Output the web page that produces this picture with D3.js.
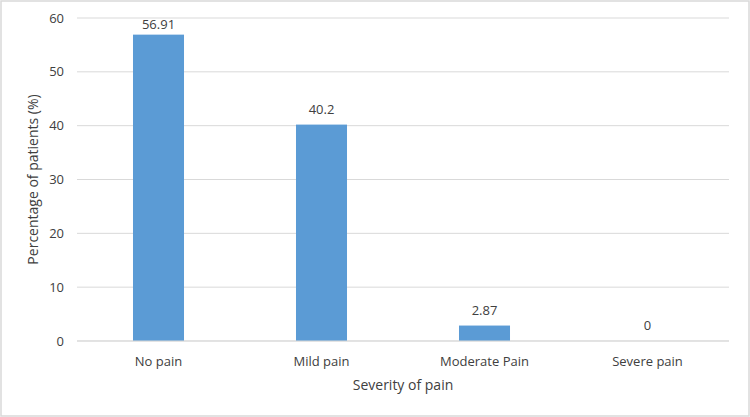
<!DOCTYPE html>
<html>
<head>
<meta charset="utf-8">
<script src="https://cdn.jsdelivr.net/npm/d3@7"></script>
<style>
  body { margin: 0; background: #fff; }
  svg { display: block; }
  text { font-family: "Open Sans", "Noto Sans", sans-serif; fill: #404040; }
</style>
</head>
<body>
<svg id="chart" width="750" height="417"></svg>
<script>
const categories = ["No pain", "Mild pain", "Moderate Pain", "Severe pain"];
const values = [56.91, 40.2, 2.87, 0];
const valueLabels = ["56.91", "40.2", "2.87", "0"];
const yTicks = [0, 10, 20, 30, 40, 50, 60];
const xTitle = "Severity of pain";
const yTitle = "Percentage of patients (%)";

const svg = d3.select("#chart");
const W = 750, H = 417;
const m = { left: 77, right: 21, top: 18, bottom: 76 };

svg.append("rect").attr("x", 1).attr("y", 1).attr("width", W - 2).attr("height", H - 2)
  .attr("fill", "#fff").attr("stroke", "#d9d9d9").attr("stroke-width", 1.5);

const x = d3.scaleBand().domain(categories).range([m.left, W - m.right]).padding(0);
const y = d3.scaleLinear().domain([0, 60]).range([H - m.bottom, m.top]);

const barW = x.bandwidth() * 0.313;

// gridlines
svg.append("g").selectAll("line").data(yTicks).join("line")
  .attr("x1", m.left).attr("x2", W - m.right)
  .attr("y1", d => y(d)).attr("y2", d => y(d))
  .attr("stroke", "#d9d9d9").attr("stroke-width", 1);

// y tick labels
svg.append("g").selectAll("text").data(yTicks).join("text")
  .attr("x", m.left - 13).attr("y", d => y(d)).attr("dy", "0.35em")
  .attr("text-anchor", "end").attr("font-size", 13).text(d => d);

// bars
svg.append("g").selectAll("rect").data(values).join("rect")
  .attr("x", (d, i) => x(categories[i]) + x.bandwidth() / 2 - barW / 2)
  .attr("width", barW)
  .attr("y", d => y(d))
  .attr("height", d => y(0) - y(d))
  .attr("fill", "#5b9bd5");

// value labels (kept inside the chart area at the top)
svg.append("g").selectAll("text").data(values).join("text")
  .attr("x", (d, i) => x(categories[i]) + x.bandwidth() / 2)
  .attr("y", d => Math.max(y(d) - 11, m.top + 11))
  .attr("text-anchor", "middle").attr("font-size", 13)
  .text((d, i) => valueLabels[i]);

// x axis line
svg.append("line").attr("x1", m.left).attr("x2", W - m.right)
  .attr("y1", y(0)).attr("y2", y(0)).attr("stroke", "#d9d9d9").attr("stroke-width", 1);

// x tick labels
svg.append("g").selectAll("text").data(categories).join("text")
  .attr("x", d => x(d) + x.bandwidth() / 2).attr("y", y(0) + 20).attr("dy", "0.35em")
  .attr("text-anchor", "middle").attr("font-size", 13).text(d => d);

// axis titles
svg.append("text").attr("x", (m.left + W - m.right) / 2).attr("y", 385).attr("dy", "0.35em")
  .attr("text-anchor", "middle").attr("font-size", 14).text(xTitle);

svg.append("text").attr("transform", `translate(33,${(m.top + H - m.bottom) / 2}) rotate(-90)`)
  .attr("dy", "0.35em").attr("text-anchor", "middle").attr("font-size", 14).text(yTitle);
</script>
</body>
</html>
